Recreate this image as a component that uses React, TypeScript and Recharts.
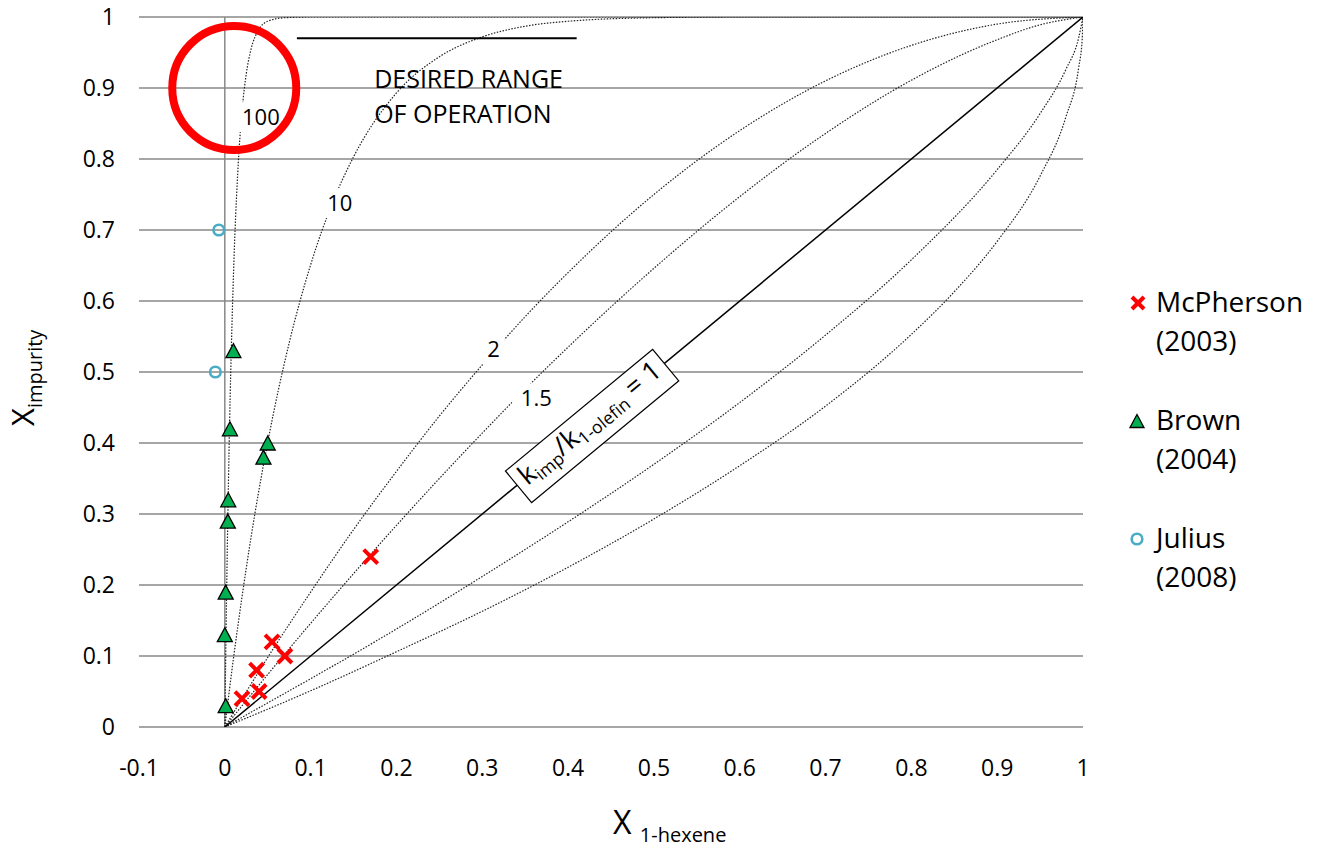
import {
  ComposedChart,
  Line,
  Scatter,
  XAxis,
  YAxis,
  CartesianGrid,
  ReferenceLine,
  ReferenceDot,
  Legend,
} from "recharts";

const FONT = "'Open Sans', 'Noto Sans', sans-serif";

const xTicks = [-0.1, 0, 0.1, 0.2, 0.3, 0.4, 0.5, 0.6, 0.7, 0.8, 0.9, 1];
const yTicks = [0, 0.1, 0.2, 0.3, 0.4, 0.5, 0.6, 0.7, 0.8, 0.9, 1];

// selectivity curves (k_imp / k_1-olefin)
const k100X = [0, 0.002, 0.005, 0.01, 0.015, 0.02, 0.025, 0.03, 0.04, 0.05, 0.07, 0.1, 0.2, 0.4, 0.6, 0.8, 1];
const k100Y = [0, 0.181, 0.394, 0.634, 0.779, 0.867, 0.92, 0.952, 0.983, 0.994, 0.999, 1, 1, 1, 1, 1, 1];
const k10X = [0, 0.01, 0.02, 0.03, 0.05, 0.075, 0.1, 0.125, 0.15, 0.2, 0.25, 0.3, 0.35, 0.4, 0.5, 0.6, 0.8, 1];
const k10Y = [0, 0.096, 0.183, 0.263, 0.401, 0.541, 0.651, 0.737, 0.803, 0.893, 0.944, 0.972, 0.987, 0.994, 0.999, 1, 1, 1];
const k2X = [0, 0.05, 0.1, 0.15, 0.2, 0.25, 0.3, 0.35, 0.4, 0.5, 0.6, 0.7, 0.8, 0.9, 1];
const k2Y = [0, 0.098, 0.19, 0.278, 0.36, 0.438, 0.51, 0.578, 0.64, 0.75, 0.84, 0.91, 0.96, 0.99, 1];
const k15X = [0, 0.05, 0.1, 0.15, 0.2, 0.25, 0.3, 0.35, 0.4, 0.5, 0.6, 0.7, 0.8, 0.9, 0.95, 1];
const k15Y = [0, 0.074, 0.146, 0.216, 0.284, 0.35, 0.414, 0.476, 0.535, 0.646, 0.747, 0.836, 0.911, 0.968, 0.989, 1];
const k067X = [0, 0.05, 0.1, 0.2, 0.3, 0.4, 0.5, 0.6, 0.7, 0.8, 0.9, 0.95, 0.98, 0.995, 1];
const k067Y = [0, 0.034, 0.068, 0.138, 0.212, 0.289, 0.37, 0.457, 0.552, 0.658, 0.785, 0.864, 0.926, 0.971, 1];
const k05X = [0, 0.1, 0.2, 0.3, 0.4, 0.5, 0.6, 0.7, 0.8, 0.85, 0.9, 0.95, 0.98, 0.995, 0.999, 1];
const k05Y = [0, 0.051, 0.106, 0.163, 0.225, 0.293, 0.368, 0.452, 0.553, 0.613, 0.684, 0.776, 0.859, 0.929, 0.968, 1];
const diagX = [0, 1];
const diagY = [0, 1];

// measured points
const mcphersonX = [0.17, 0.055, 0.07, 0.037, 0.04, 0.02];
const mcphersonY = [0.24, 0.12, 0.1, 0.08, 0.05, 0.04];
const brownX = [0.01, 0.006, 0.05, 0.045, 0.004, 0.0035, 0.001, 0, 0.001];
const brownY = [0.53, 0.42, 0.4, 0.38, 0.32, 0.29, 0.19, 0.13, 0.03];
const juliusX = [-0.007, -0.011];
const juliusY = [0.7, 0.5];

const curveLabels = ["100", "10", "2", "1.5"];
const curveLabelX = [0.042, 0.134, 0.313, 0.363];
const curveLabelY = [0.859, 0.738, 0.532, 0.463];

const zip = (xs: number[], ys: number[]) => xs.map((x, i) => ({ x, y: ys[i] }));

const dotted = [zip(k100X, k100Y), zip(k10X, k10Y), zip(k2X, k2Y), zip(k15X, k15Y), zip(k067X, k067Y), zip(k05X, k05Y)];

const RED = "#FF0000";
const GREEN = "#00B050";
const BLUE = "#4BACC6";

const Cross = ({ cx, cy, s = 7, w = 4 }: any) => (
  <g stroke={RED} strokeWidth={w}>
    <line x1={cx - s} y1={cy - s} x2={cx + s} y2={cy + s} />
    <line x1={cx - s} y1={cy + s} x2={cx + s} y2={cy - s} />
  </g>
);
const Tri = ({ cx, cy, s = 7.5 }: any) => (
  <polygon points={`${cx},${cy - s + 0.5} ${cx - s},${cy + s - 0.5} ${cx + s},${cy + s - 0.5}`} fill={GREEN} stroke="#000" strokeWidth={1.3} />
);
const Ring = ({ cx, cy }: any) => <circle cx={cx} cy={cy} r={5.3} fill="none" stroke={BLUE} strokeWidth={2.6} />;

const legendRows = [
  { name: "McPherson", year: "(2003)", icon: (y: number) => <Cross cx={18} cy={y} s={6} w={4} /> },
  { name: "Brown", year: "(2004)", icon: (y: number) => <Tri cx={17} cy={y} s={7} /> },
  { name: "Julius", year: "(2008)", icon: (y: number) => <Ring cx={17} cy={y} /> },
];

const LegendBox = () => (
  <svg width={205} height={330} style={{ display: "block" }}>
    {legendRows.map((r, i) => {
      const base = 42 + i * 118;
      return (
        <g key={r.name}>
          {r.icon(base - 9)}
          <text x={36} y={base} fontSize={28} fontFamily={FONT} fill="#000">{r.name}</text>
          <text x={36} y={base + 39} fontSize={28} fontFamily={FONT} fill="#000">{r.year}</text>
        </g>
      );
    })}
  </svg>
);

const XTitle = () => (
  <text x={613} y={834} fontFamily={FONT} fill="#000">
    <tspan fontSize={32}>X </tspan>
    <tspan fontSize={20} dy={8}>1-hexene</tspan>
  </text>
);

const YTitle = () => (
  <text x={34} y={426} transform="rotate(-90, 34, 426)" fontFamily={FONT} fill="#000">
    <tspan fontSize={31}>X</tspan>
    <tspan fontSize={20} dy={8}>impurity</tspan>
  </text>
);

const CurveLabel = (text: string) => (p: any) => {
  const w = text.length * 12.6 + 10;
  return (
    <g>
      <rect x={p.cx - w / 2} y={p.cy - 15} width={w} height={30} fill="#fff" />
      <text x={p.cx} y={p.cy + 8} textAnchor="middle" fontSize={22} fontFamily={FONT} fill="#000">{text}</text>
    </g>
  );
};

const DesiredText = (p: any) => (
  <text x={p.cx} y={p.cy} fontSize={25} fontFamily={FONT} fill="#000">
    <tspan x={p.cx}>DESIRED RANGE</tspan>
    <tspan x={p.cx} dy={35}>OF OPERATION</tspan>
  </text>
);

const DiagLabel = (p: any) => (
  <g transform={`rotate(-39.6, ${p.cx}, ${p.cy})`}>
    <rect x={p.cx - 95.5} y={p.cy - 20.5} width={191} height={41} fill="#fff" stroke="#000" strokeWidth={1.2} />
    <text x={p.cx} y={p.cy + 5} textAnchor="middle" fontFamily={FONT} fill="#000">
      <tspan fontSize={27}>k</tspan>
      <tspan fontSize={17.5} dy={5}>imp</tspan>
      <tspan fontSize={27} dy={-5}>/k</tspan>
      <tspan fontSize={17.5} dy={5}>1-olefin</tspan>
      <tspan fontSize={27} dy={-5}> = 1</tspan>
    </text>
  </g>
);

export default function App() {
  return (
    <div style={{ width: 1325, height: 852, position: "relative", background: "#fff" }}>
      <style>{`body{margin:0}`}</style>
      <ComposedChart width={1325} height={852} margin={{ top: 17, right: 242, bottom: 0, left: 0 }}>
        <CartesianGrid vertical={false} stroke="#888" strokeWidth={1.5} />
        <XAxis
          type="number"
          dataKey="x"
          domain={[-0.1, 1]}
          ticks={xTicks}
          interval={0}
          allowDataOverflow
          height={125}
          tickLine={false}
          axisLine={false}
          tickMargin={27}
          tick={{ fill: "#000", fontSize: 23, fontFamily: FONT }}
          label={XTitle}
        />
        <YAxis
          type="number"
          dataKey="y"
          domain={[0, 1]}
          ticks={yTicks}
          interval={0}
          allowDataOverflow
          width={139}
          tickLine={false}
          axisLine={false}
          tickMargin={18}
          tick={{ fill: "#000", fontSize: 23, fontFamily: FONT }}
          label={YTitle}
        />
        <ReferenceLine x={0} stroke="#888" strokeWidth={1.5} />
        {dotted.map((d, i) => (
          <Line
            key={i}
            data={d}
            dataKey="y"
            type="monotone"
            stroke="#222"
            strokeWidth={1.2}
            strokeDasharray="1.5 1.5"
            dot={false}
            activeDot={false}
            isAnimationActive={false}
          />
        ))}
        <Line data={zip(diagX, diagY)} dataKey="y" type="linear" stroke="#000" strokeWidth={1.5} dot={false} activeDot={false} isAnimationActive={false} />
        <Scatter data={zip(mcphersonX, mcphersonY)} shape={(p: any) => <Cross cx={p.cx} cy={p.cy} />} isAnimationActive={false} />
        <Scatter data={zip(brownX, brownY)} shape={(p: any) => <Tri cx={p.cx} cy={p.cy} />} isAnimationActive={false} />
        <Scatter data={zip(juliusX, juliusY)} shape={(p: any) => <Ring cx={p.cx} cy={p.cy} />} isAnimationActive={false} />
        {curveLabels.map((t, i) => (
          <ReferenceDot key={t} x={curveLabelX[i]} y={curveLabelY[i]} shape={CurveLabel(t)} />
        ))}
        <ReferenceDot x={0.428} y={0.424} shape={DiagLabel} />
        <ReferenceLine segment={[{ x: 0.084, y: 0.97 }, { x: 0.41, y: 0.97 }]} stroke="#000" strokeWidth={2} />
        <ReferenceDot x={0.174} y={0.9} shape={DesiredText} />
        <ReferenceDot x={0.011} y={0.9} r={62} fill="none" stroke={RED} strokeWidth={8} />
        <Legend
          layout="vertical"
          align="center"
          verticalAlign="middle"
          content={LegendBox}
          wrapperStyle={{ left: 1120, top: 270, width: 205, height: 330 }}
        />
      </ComposedChart>
    </div>
  );
}
